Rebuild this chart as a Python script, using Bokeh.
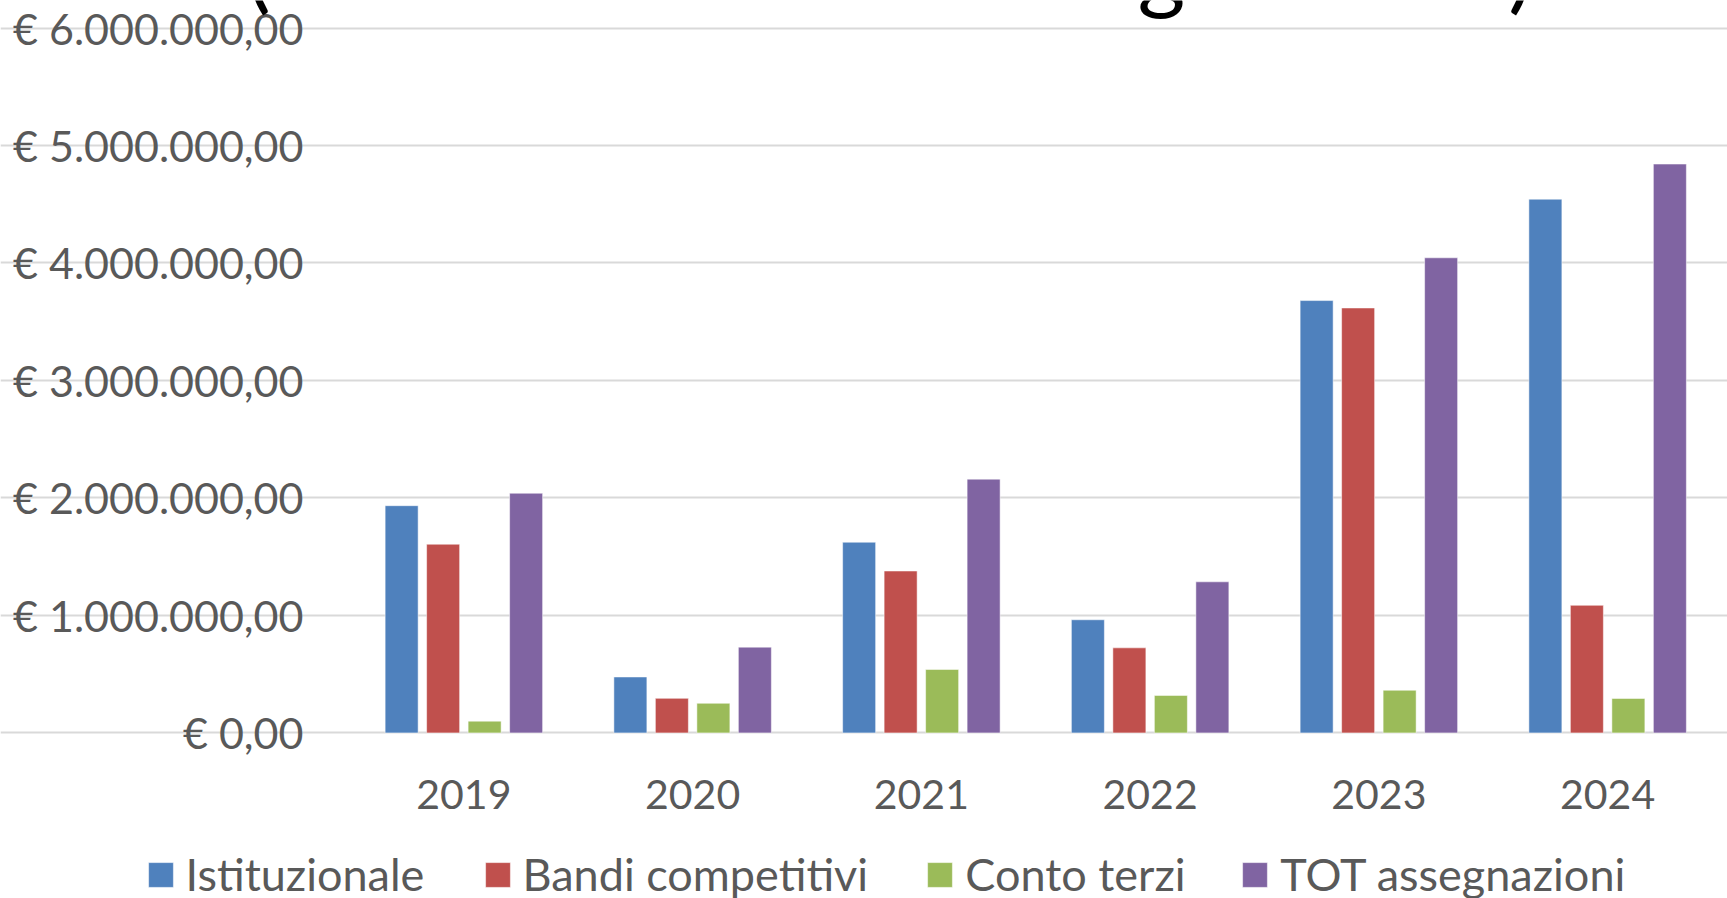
from bokeh.plotting import figure
from bokeh.models import Range1d, FixedTicker, Legend, LegendItem, Label, ColumnDataSource
from bokeh.embed import file_html
from bokeh.resources import INLINE

# ---- data ----
years = ["2019", "2020", "2021", "2022", "2023", "2024"]
istituzionale = [1934000, 476000, 1623000, 963000, 3680000, 4543000]
bandi_competitivi = [1606000, 294000, 1378000, 724000, 3617000, 1086000]
conto_terzi = [100000, 252000, 540000, 319000, 363000, 293000]
tot_assegnazioni = [2040000, 730000, 2160000, 1286000, 4044000, 4842000]
series_names = ["Istituzionale", "Bandi competitivi", "Conto terzi", "TOT assegnazioni"]
y_tick_values = [0, 1000000, 2000000, 3000000, 4000000, 5000000, 6000000]
y_tick_labels = ["€ 0,00", "€ 1.000.000,00", "€ 2.000.000,00", "€ 3.000.000,00",
                 "€ 4.000.000,00", "€ 5.000.000,00", "€ 6.000.000,00"]
title_fragments = ["(", "g", ")"]

colors = ["#4f81bd", "#c0504d", "#9bbb59", "#8064a2"]
FONT = "Lato"
GRAY = "#595959"

# ---- layout (pixels) ----
W, H = 1727, 898
plot_left, cat_px = 349.0, 228.75        # x of first category edge, px per category
zero_px, m_px = 732.4, 117.48            # y of 0 line, px per 1.000.000

x_start = -plot_left / cat_px
x_end = (W - plot_left) / cat_px
y_end = zero_px / m_px * 1e6
y_start = -(H - zero_px) / m_px * 1e6

n = len(years)
centers = [i + 0.5 for i in range(n)]
step = 0.1814
bw = 0.1443
offsets = [-1.5 * step, -0.5 * step, 0.5 * step, 1.5 * step]
series = [istituzionale, bandi_competitivi, conto_terzi, tot_assegnazioni]

p = figure(x_range=Range1d(x_start, x_end), y_range=Range1d(y_start, y_end),
           width=W, height=H, min_border=0, output_backend="svg", toolbar_location=None)
p.outline_line_color = None
p.background_fill_color = "white"
p.border_fill_color = "white"

renderers = []
for i, vals in enumerate(series):
    src = ColumnDataSource(dict(x=[c + offsets[i] for c in centers], top=vals))
    r = p.vbar(x="x", top="top", width=bw, source=src,
               fill_color=colors[i], line_color="white", line_alpha=0.5, line_width=1)
    renderers.append(r)

# grid
yticker = FixedTicker(ticks=y_tick_values)
p.xgrid.visible = False
p.ygrid.ticker = yticker
p.ygrid.bounds = (0, n)
p.ygrid.grid_line_color = "#d9d9d9"
p.ygrid.grid_line_width = 2

# y axis (fixed at left edge of the categories)
p.yaxis.fixed_location = 0
p.yaxis.ticker = yticker
p.yaxis.major_label_overrides = {v: l for v, l in zip(y_tick_values, y_tick_labels)}
p.yaxis.axis_line_color = None
p.yaxis.major_tick_line_color = None
p.yaxis.minor_tick_line_color = None
p.yaxis.major_label_text_font = FONT
p.yaxis.major_label_text_font_size = "43px"
p.yaxis.major_label_text_color = GRAY
p.yaxis.major_label_standoff = 40

# x axis (fixed on the zero line)
p.xaxis.fixed_location = 0
p.xaxis.ticker = FixedTicker(ticks=centers)
p.xaxis.major_label_overrides = {c: y for c, y in zip(centers, years)}
p.xaxis.axis_line_color = None
p.xaxis.major_tick_line_color = None
p.xaxis.minor_tick_line_color = None
p.xaxis.major_label_text_font = FONT
p.xaxis.major_label_text_font_size = "41px"
p.xaxis.major_label_text_color = GRAY
p.xaxis.major_label_standoff = 41

# legends (one per item, positioned individually)
leg_x = [144.5, 481.5, 924.3, 1239.3]
for i in range(4):
    leg = Legend(items=[LegendItem(label=series_names[i], renderers=[renderers[i]])],
                 location=(leg_x[i], -3), orientation="horizontal",
                 glyph_width=31, glyph_height=31, label_standoff=10,
                 label_text_font=FONT, label_text_font_size="45px", label_text_color=GRAY,
                 padding=0, margin=0, spacing=0, border_line_alpha=0,
                 background_fill_alpha=0)
    p.add_layout(leg)

# cut-off title fragments at the top edge
frag_px = [258, 1161, 1520]
for t, xp in zip(title_fragments, frag_px):
    p.add_layout(Label(x=(xp - plot_left) / cat_px, y=H + 34, y_units="screen", text=t,
                       text_font=FONT, text_font_size="92px", text_color="black",
                       text_align="center", text_baseline="middle"))

open("out.html", "w").write(file_html(p, INLINE))
